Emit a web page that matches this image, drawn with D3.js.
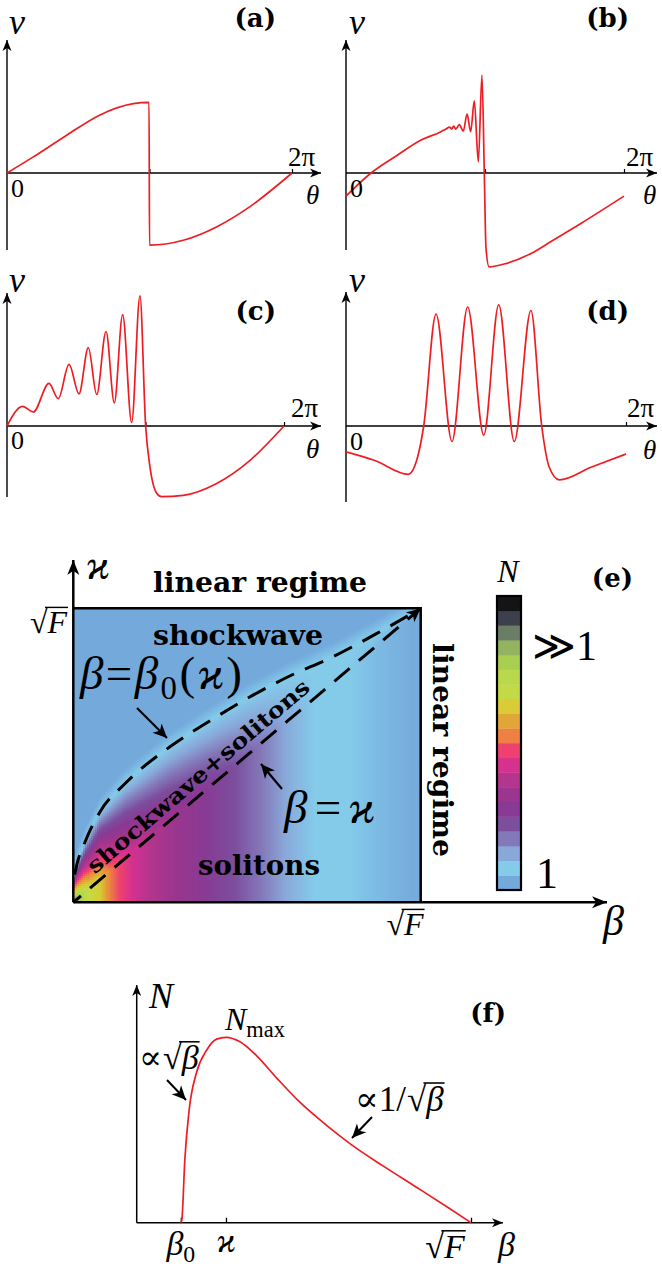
<!DOCTYPE html>
<html>
<head>
<meta charset="utf-8">
<script src="https://cdn.jsdelivr.net/npm/d3@7"></script>
<style>
  body { margin: 0; background: #fff; }
  text { fill: #000; }
</style>
</head>
<body>
<svg id="fig" width="662" height="1268"></svg>
<script>
// ---------- data (theta in units of pi, v in arbitrary units) ----------
var thetaA = [0, 0.185, 0.419, 0.653, 0.886, 0.997, 1.0, 1.237, 1.47, 1.705, 2.0];
var vA     = [0, 0.23, 0.54, 0.83, 0.99, 1.01, -1.03, -0.96, -0.77, -0.48, 0];

var thetaB = [0, 0.18, 0.374, 0.54, 0.683, 0.72, 0.745, 0.76, 0.775, 0.79, 0.815, 0.844, 0.871, 0.897, 0.923, 0.952, 0.978, 0.995, 1.007, 1.029, 1.137, 1.331, 1.475, 1.69, 2.0];
var vB     = [-0.33, 0, 0.26, 0.47, 0.59, 0.63, 0.655, 0.63, 0.67, 0.625, 0.69, 0.6, 0.84, 0.59, 1.03, 0.16, 1.4, 0, -1.07, -1.34, -1.3, -1.15, -0.98, -0.72, -0.33];

var thetaC = [0, 0.113, 0.19, 0.303, 0.37, 0.448, 0.52, 0.587, 0.648, 0.715, 0.775, 0.835, 0.9, 0.96, 1.001, 1.032, 1.081, 1.117, 1.273, 1.514, 1.755, 2.0];
var vC     = [0, 0.28, 0.2, 0.61, 0.39, 0.88, 0.46, 1.12, 0.45, 1.35, 0.33, 1.59, 0.05, 1.86, 0, -0.58, -0.96, -1.01, -0.99, -0.82, -0.49, 0];

var thetaD = [0, 0.202, 0.445, 0.512, 0.555, 0.643, 0.757, 0.869, 0.984, 1.091, 1.202, 1.321, 1.398, 1.452, 1.524, 1.75, 2.0];
var vD     = [-0.37, -0.49, -0.69, -0.44, 0, 1.6, -0.22, 1.7, -0.13, 1.73, -0.22, 1.65, 0, -0.59, -0.77, -0.59, -0.4];

// panel (e): beta, kappa in units of sqrt(F); N as colour level 1..20
var stripeBeta = [0, 0.02, 0.043, 0.077, 0.106, 0.134, 0.169, 0.22, 0.293, 0.379, 0.465, 0.543, 0.61, 0.695, 0.795, 0.88, 1.0];
var stripeN    = [19, 16, 14, 13, 11, 10, 9, 8, 7, 6, 5, 4, 3, 2, 2, 1.5, 1];
var b0Beta  = [0.004, 0.01, 0.034, 0.077, 0.15, 0.278, 0.4, 0.509, 0.62, 0.747, 0.87, 1.0];
var b0Kappa = [0.094, 0.127, 0.206, 0.308, 0.405, 0.529, 0.622, 0.699, 0.768, 0.835, 0.912, 1.0];
var diagBeta = [0, 1];
var cbColors = ["#74A9DC", "#84CBEA", "#88A8D9", "#8379B9", "#7C4E9E", "#883A94", "#9B358E", "#B3358D",
                "#D5318F", "#EE4170", "#EF8044", "#E2A638", "#D9CC36", "#C2DA45", "#BAD84C", "#A8CF50",
                "#93B35F", "#6A7E65", "#3E3F4D", "#141316"];

// panel (f)
var fBeta = [0.132, 0.135, 0.144, 0.157, 0.179, 0.209, 0.239, 0.267, 0.309, 0.359, 0.419, 0.488, 0.568, 0.643, 0.738, 0.838, 0.937, 1.0];
var fN    = [0, 0.015, 0.34, 0.61, 0.81, 0.93, 0.99, 1.0, 0.976, 0.9, 0.78, 0.65, 0.525, 0.42, 0.305, 0.19, 0.075, 0];
var fTicks = [0.132, 0.267, 1.0];

// ---------- setup ----------
var RED = "#ee1d23";
var MATH = '"Liberation Serif","DejaVu Serif",serif';
var BOLD = '"DejaVu Serif",serif';
var svg = d3.select("#fig");
var defs = svg.append("defs");

function marker(id, L, W) {
  defs.append("marker")
    .attr("id", id)
    .attr("markerUnits", "userSpaceOnUse")
    .attr("viewBox", (-L - 1) + " " + (-W - 1) + " " + (L + 2) + " " + (2 * W + 2))
    .attr("markerWidth", L + 2).attr("markerHeight", 2 * W + 2)
    .attr("refX", 0).attr("refY", 0)
    .attr("orient", "auto")
    .append("path")
    .attr("d", "M0,0 L" + (-L) + "," + (-W) + " L" + (-L * 0.72) + ",0 L" + (-L) + "," + W + " Z")
    .attr("fill", "#000");
}
marker("arrS", 11, 4.5);
marker("arrL", 15, 6);
marker("arrA", 14, 6.5);

// text made of pieces: [string, kind] kind: i italic, r roman, s subscript
function mathText(g, x, y, size, parts, anchor, len) {
  var t = g.append("text").attr("x", x).attr("y", y)
    .style("font-family", MATH).style("font-size", size + "px")
    .attr("text-anchor", anchor || "start");
  var shift = 0;
  parts.forEach(function(p) {
    var ts = t.append("tspan").text(p[0]);
    if (p[1] === "i") ts.style("font-style", "italic");
    if (p[1] === "s") {
      ts.style("font-size", (size * 0.7) + "px").attr("dy", size * 0.22);
      shift = size * 0.22;
    } else if (shift) {
      ts.attr("dy", -shift); shift = 0;
    }
  });
  if (len) t.attr("textLength", len).attr("lengthAdjust", "spacing");
  return t;
}

// prefix + radical + inner with overline
function sqrtLabel(g, x, y, size, prefix, inner, anchor) {
  var grp = g.append("g");
  var cx = 0;
  if (prefix) {
    var tp = grp.append("text").attr("x", 0).attr("y", 0)
      .style("font-family", MATH).style("font-size", size + "px").text(prefix);
    cx = tp.node().getComputedTextLength() + 1;
  }
  var rad = grp.append("text").attr("x", cx).attr("y", 0)
    .style("font-family", MATH).style("font-size", size + "px").text("\u221A");
  var w1 = rad.node().getComputedTextLength();
  var tin = grp.append("text").attr("x", cx + w1).attr("y", 0)
    .style("font-family", MATH).style("font-size", size + "px").style("font-style", "italic").text(inner);
  var w2 = tin.node().getComputedTextLength();
  var top = -size * 0.8;
  grp.append("line").attr("x1", cx + w1 * 0.86).attr("x2", cx + w1 + w2 + 1)
    .attr("y1", top).attr("y2", top).attr("stroke", "#000").attr("stroke-width", size * 0.045);
  var total = cx + w1 + w2;
  var dx = anchor === "end" ? -total : anchor === "middle" ? -total / 2 : 0;
  grp.attr("transform", "translate(" + (x + dx) + "," + y + ")");
  return grp;
}

function boldText(g, x, y, size, str, len, anchor) {
  var t = g.append("text").attr("x", x).attr("y", y)
    .style("font-family", BOLD).style("font-weight", "bold").style("font-size", size + "px")
    .attr("text-anchor", anchor || "start").text(str);
  if (len) t.attr("textLength", len).attr("lengthAdjust", "spacingAndGlyphs");
  return t;
}

function arrowLine(g, x1, y1, x2, y2, w, mk) {
  g.append("line").attr("x1", x1).attr("y1", y1).attr("x2", x2).attr("y2", y2)
    .attr("stroke", "#000").attr("stroke-width", w).attr("marker-end", "url(#" + mk + ")");
}

// ---------- panels (a)-(d) ----------
var panels = [
  {tag: "(a)", theta: thetaA, v: vA, x0: 7, x2: 292, y0: 173, top: 40, bot: 250, right: 321,
   vLab: [9, 34], tagPos: [276, 27], piPos: [288, 166], thPos: [306, 204], zPos: [11, 197]},
  {tag: "(b)", theta: thetaB, v: vB, x0: 346, x2: 624, y0: 173, top: 40, bot: 250, right: 657,
   vLab: [349, 34], tagPos: [629, 27], piPos: [626, 166], thPos: [643, 204], zPos: [350, 197]},
  {tag: "(c)", theta: thetaC, v: vC, x0: 7, x2: 284, y0: 426, top: 293, bot: 497, right: 321,
   vLab: [9, 292], tagPos: [276, 320], piPos: [291, 417], thPos: [306, 458], zPos: [11, 449]},
  {tag: "(d)", theta: thetaD, v: vD, x0: 346, x2: 626, y0: 426, top: 292, bot: 502, right: 657,
   vLab: [349, 292], tagPos: [629, 320], piPos: [627, 417], thPos: [643, 459], zPos: [350, 450]}
];

panels.forEach(function(p) {
  var x = d3.scaleLinear().domain([0, 2]).range([p.x0, p.x2]);
  var y = d3.scaleLinear().domain([0, 1]).range([p.y0, p.y0 - 70]);
  var g = svg.append("g");

  g.append("g").attr("transform", "translate(0," + p.y0 + ")")
    .call(d3.axisBottom(x).tickValues([1, 2]).tickSize(-4).tickFormat(""))
    .call(function(a) { a.select(".domain").remove(); })
    .selectAll("line").attr("stroke", "#000").attr("stroke-width", 1.2);

  arrowLine(g, p.x0, p.y0, p.right, p.y0, 1.4, "arrS");
  arrowLine(g, p.x0, p.bot, p.x0, p.top, 1.4, "arrS");

  g.append("path")
    .datum(d3.zip(p.theta, p.v))
    .attr("fill", "none").attr("stroke", RED).attr("stroke-width", 1.7)
    .attr("d", d3.line().x(function(d) { return x(d[0]); }).y(function(d) { return y(d[1]); })
      .curve(d3.curveMonotoneX));

  mathText(g, p.vLab[0], p.vLab[1], 36, [["v", "i"]]);
  boldText(g, p.tagPos[0], p.tagPos[1], 26, p.tag, null, "end");
  mathText(g, p.piPos[0], p.piPos[1], 27, [["2\u03C0", "r"]]);
  mathText(g, p.thPos[0], p.thPos[1], 27, [["\u03B8", "i"]]);
  mathText(g, p.zPos[0], p.zPos[1], 26, [["0", "r"]]);
});

// ---------- panel (e) ----------
var ge = svg.append("g");
var xE = d3.scaleLinear().domain([0, 1]).range([73.3, 420.7]);
var yE = d3.scaleLinear().domain([0, 1]).range([902.3, 608.3]);
var stripe = d3.scaleLinear().domain(stripeBeta).range(stripeN).clamp(true);
var kappa0 = d3.scaleLinear().domain(b0Beta).range(b0Kappa).clamp(true);
var colour = d3.scaleLinear().domain(d3.range(1, 21)).range(cbColors).clamp(true);

function levelAt(b, k) {
  var s = stripe(b), k0 = kappa0(b);
  if (k <= b) return s;
  if (k <= k0) return s + (2 - s) * (k - b) / (k0 - b);
  return Math.max(1, 2 - (k - k0) * 294 / 14);
}

var cs = 2, cells = [];
d3.range(xE(0), xE(1), cs).forEach(function(px) {
  d3.range(yE(1), yE(0), cs).forEach(function(py) {
    cells.push({x: px, y: py, n: levelAt(xE.invert(px + cs / 2), yE.invert(py + cs / 2))});
  });
});
defs.append("clipPath").attr("id", "boxClip").append("rect")
  .attr("x", xE(0)).attr("y", yE(1)).attr("width", xE(1) - xE(0)).attr("height", yE(0) - yE(1));
ge.append("g").attr("clip-path", "url(#boxClip)")
  .selectAll("rect").data(cells).join("rect")
  .attr("x", function(d) { return d.x; }).attr("y", function(d) { return d.y; })
  .attr("width", cs + 0.3).attr("height", cs + 0.3)
  .attr("fill", function(d) { return colour(d.n); })
  .attr("shape-rendering", "crispEdges");

var lineE = d3.line().x(function(d) { return xE(d[0]); }).y(function(d) { return yE(d[1]); });
ge.append("path").datum(d3.zip(b0Beta, b0Kappa))
  .attr("d", lineE.curve(d3.curveMonotoneX))
  .attr("fill", "none").attr("stroke", "#000").attr("stroke-width", 3)
  .attr("stroke-dasharray", "20,12");
ge.append("path").datum(d3.zip(diagBeta, diagBeta))
  .attr("d", d3.line().x(function(d) { return xE(d[0]); }).y(function(d) { return yE(d[1]); }))
  .attr("fill", "none").attr("stroke", "#000").attr("stroke-width", 3)
  .attr("stroke-dasharray", "20,12").attr("stroke-dashoffset", -22)
  .attr("marker-end", "url(#arrA)");

// box + axes
ge.append("path")
  .attr("d", "M" + xE(0) + "," + yE(1) + "H" + xE(1) + "V" + yE(0))
  .attr("fill", "none").attr("stroke", "#000").attr("stroke-width", 2.5);
arrowLine(ge, xE(0), yE(0), 607, yE(0), 2.5, "arrL");
arrowLine(ge, xE(0), yE(0), xE(0), 560, 2.5, "arrL");

mathText(ge, 86, 579, 42, [["\u03F0", "i"]]);
sqrtLabel(ge, 67, 633, 32, null, "F", "end");
sqrtLabel(ge, 405, 935, 32, null, "F", "middle");
mathText(ge, 603, 935, 42, [["\u03B2", "i"]]);

boldText(ge, 260, 592, 27, "linear regime", 214, "middle");
boldText(ge, 238, 645, 27, "shockwave", 170, "middle");
boldText(ge, 259, 875, 27, "solitons", 122, "middle");
boldText(ge, 0, 0, 27, "linear regime", 214, "middle")
  .attr("transform", "translate(433,750) rotate(90)");
boldText(ge, 0, 0, 22, "shockwave+solitons", 285, "middle")
  .attr("transform", "translate(203,782) rotate(-40.5)");

mathText(ge, 80, 689, 47, [["\u03B2", "i"], ["=", "r"], ["\u03B2", "i"], ["0", "s"], ["(", "r"], ["\u03F0", "i"], [")", "r"]], "start", 162);
mathText(ge, 284, 823, 47, [["\u03B2", "i"], ["=", "r"], ["\u03F0", "i"]], "start", 91);
arrowLine(ge, 137, 708, 167, 738, 2.2, "arrA");
arrowLine(ge, 282, 789, 261, 764, 2.2, "arrA");

// colour bar
var cbY = d3.scaleLinear().domain([0.5, 20.5]).range([890, 596]);
var cb = ge.append("g");
cb.selectAll("rect").data(cbColors).join("rect")
  .attr("x", 498).attr("width", 22)
  .attr("y", function(d, i) { return cbY(i + 1.5); })
  .attr("height", function(d, i) { return cbY(i + 0.5) - cbY(i + 1.5) + 0.4; })
  .attr("fill", function(d) { return d; });
cb.append("rect").attr("x", 497).attr("y", cbY(20.5)).attr("width", 24).attr("height", cbY(0.5) - cbY(20.5))
  .attr("fill", "none").attr("stroke", "#000").attr("stroke-width", 2.2);
mathText(ge, 508, 582, 32, [["N", "i"]], "middle");
mathText(ge, 532, 660, 42, [["\u226B1", "r"]]);
mathText(ge, 536, 888, 44, [["1", "r"]]);
boldText(ge, 633, 587, 26, "(e)", null, "end");

// ---------- panel (f) ----------
var gf = svg.append("g");
var xF = d3.scaleLinear().domain([0, 1]).range([136.7, 471]);
var yF = d3.scaleLinear().domain([0, 1]).range([1222.7, 1037.3]);

gf.append("g").attr("transform", "translate(0," + yF(0) + ")")
  .call(d3.axisBottom(xF).tickValues(fTicks).tickSize(-5).tickFormat(""))
  .call(function(a) { a.select(".domain").remove(); })
  .selectAll("line").attr("stroke", "#000").attr("stroke-width", 1.3);
arrowLine(gf, xF(0), yF(0), 503, yF(0), 1.5, "arrS");
arrowLine(gf, xF(0), yF(0), xF(0), 985, 1.5, "arrS");

gf.append("path").datum(d3.zip(fBeta, fN))
  .attr("fill", "none").attr("stroke", RED).attr("stroke-width", 1.7)
  .attr("d", d3.line().x(function(d) { return xF(d[0]); }).y(function(d) { return yF(d[1]); })
    .curve(d3.curveMonotoneX));

mathText(gf, 149, 1008, 36, [["N", "i"]]);
mathText(gf, 225, 1030, 32, [["N", "i"], ["max", "s"]]);
boldText(gf, 506, 1022, 26, "(f)", null, "end");
sqrtLabel(gf, 139, 1069, 34, "\u221D", "\u03B2", "start");
sqrtLabel(gf, 355, 1111, 35, "\u221D1/", "\u03B2", "start");
arrowLine(gf, 167, 1080, 186, 1100, 2, "arrA");
arrowLine(gf, 372, 1117, 352, 1138, 2, "arrA");
mathText(gf, xF(fTicks[0]), 1255, 34, [["\u03B2", "i"], ["0", "s"]], "middle");
mathText(gf, xF(fTicks[1]), 1252, 34, [["\u03F0", "i"]], "middle");
sqrtLabel(gf, 445, 1258, 34, null, "F", "middle");
mathText(gf, 498, 1256, 34, [["\u03B2", "i"]]);
</script>
</body>
</html>
